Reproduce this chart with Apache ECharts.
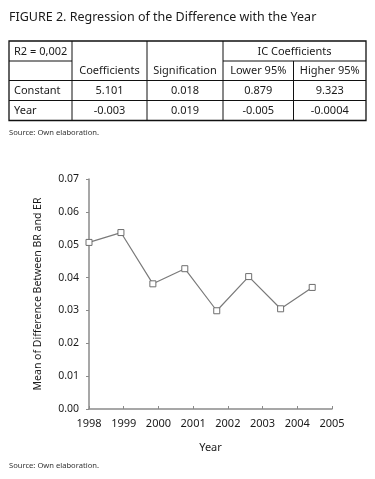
<!DOCTYPE html>
<html>
<head>
<meta charset="utf-8">
<script src="https://cdn.jsdelivr.net/npm/echarts@6/dist/echarts.min.js"></script>
<style>
html,body{margin:0;padding:0;background:#fff;}
#chart{width:375px;height:479px;}
</style>
</head>
<body>
<div id="chart"></div>
<script>
// ---- Data ----
const titleText = 'FIGURE 2. Regression of the Difference with the Year';
const sourceText = 'Source: Own elaboration.';
const tableTopLeft = 'R2 = 0,002';
const tableGroupHeader = 'IC Coefficients';
const columnHeaders = ['Coefficients', 'Signification', 'Lower 95%', 'Higher 95%'];
const rowLabels = ['Constant', 'Year'];
const coefficients = ['5.101', '-0.003'];
const signification = ['0.018', '0.019'];
const lower95 = ['0.879', '-0.005'];
const higher95 = ['9.323', '-0.0004'];

const pointYears = [1998.0, 1998.92, 1999.84, 2000.76, 2001.68, 2002.6, 2003.52, 2004.43];
const meanDifference = [0.0507, 0.0537, 0.0381, 0.0427, 0.0299, 0.0403, 0.0305, 0.0370];
const xTickLabels = ['1998', '1999', '2000', '2001', '2002', '2003', '2004', '2005'];
const yTickLabels = ['0.00', '0.01', '0.02', '0.03', '0.04', '0.05', '0.06', '0.07'];

// ---- Layout ----
const FONT = '"Noto Sans", sans-serif';
const colX = [9, 72, 147, 223, 293.5, 366];
const rowY = [41, 61, 80.5, 100.5, 120.5];
const txt = '#1a1a1a';

const graphics = [];
function text(x, y, s, opts) {
  graphics.push({
    type: 'text', x: x, y: y, silent: true,
    style: Object.assign({ text: s, fill: txt, font: '11px ' + FONT, textAlign: 'left', textVerticalAlign: 'middle' }, opts || {})
  });
}
function line(x1, y1, x2, y2, w) {
  graphics.push({ type: 'line', silent: true, shape: { x1: x1, y1: y1, x2: x2, y2: y2 }, style: { stroke: '#111', lineWidth: w || 1 } });
}
// title
text(9, 17, titleText, { font: '12.5px ' + FONT });
// table outer border
graphics.push({ type: 'rect', silent: true, shape: { x: colX[0], y: rowY[0], width: colX[5] - colX[0], height: rowY[4] - rowY[0] }, style: { fill: 'none', stroke: '#111', lineWidth: 1.3 } });
// horizontal lines
line(colX[0], rowY[1], colX[1], rowY[1]);
line(colX[3], rowY[1], colX[5], rowY[1]);
line(colX[0], rowY[2], colX[5], rowY[2]);
line(colX[0], rowY[3], colX[5], rowY[3]);
// vertical lines
line(colX[1], rowY[0], colX[1], rowY[4]);
line(colX[2], rowY[0], colX[2], rowY[4]);
line(colX[3], rowY[0], colX[3], rowY[4]);
line(colX[4], rowY[1], colX[4], rowY[4]);
// table texts
const rc = i => (rowY[i] + rowY[i + 1]) / 2 + 0.5;
const cc = j => (colX[j] + colX[j + 1]) / 2;
text(14, rc(0), tableTopLeft);
text((colX[3] + colX[5]) / 2, rc(0), tableGroupHeader, { textAlign: 'center' });
columnHeaders.forEach((h, j) => text(cc(j + 1), rc(1), h, { textAlign: 'center' }));
const cols = [coefficients, signification, lower95, higher95];
rowLabels.forEach((lab, i) => {
  text(14, rc(i + 2), lab);
  cols.forEach((c, j) => text(cc(j + 1), rc(i + 2), c[i], { textAlign: 'center' }));
});
// sources
text(9, 133, sourceText, { font: '7.6px ' + FONT, fill: '#333' });
text(9, 466, sourceText, { font: '7.6px ' + FONT, fill: '#333' });

const chart = echarts.init(document.getElementById('chart'), null, { renderer: 'canvas' });
chart.setOption({
  animation: false,
  backgroundColor: '#fff',
  textStyle: { fontFamily: FONT },
  grid: { left: 89, right: 43, top: 179, bottom: 70, containLabel: false },
  xAxis: {
    type: 'value', min: 1998, max: 2005, interval: 1,
    name: 'Year', nameLocation: 'middle', nameGap: 33,
    nameTextStyle: { color: txt, fontSize: 11, fontFamily: FONT },
    axisLine: { show: true, lineStyle: { color: '#8a8a8a', width: 1.5 } },
    axisTick: { show: true, inside: true, length: 3, lineStyle: { color: '#8a8a8a', width: 1 } },
    axisLabel: { color: txt, fontSize: 11, fontFamily: FONT, margin: 9, formatter: v => xTickLabels[Math.round(v - 1998)] },
    splitLine: { show: false }
  },
  yAxis: {
    type: 'value', min: 0, max: 0.07, interval: 0.01,
    name: 'Mean of Difference Between BR and ER', nameLocation: 'middle', nameGap: 45,
    nameTextStyle: { color: txt, fontSize: 10.5, fontFamily: FONT },
    axisLine: { show: true, lineStyle: { color: '#8a8a8a', width: 1.5 } },
    axisTick: { show: true, length: 3, lineStyle: { color: '#8a8a8a', width: 1 } },
    axisLabel: { color: txt, fontSize: 10.5, fontFamily: FONT, margin: 10, formatter: v => yTickLabels[Math.round(v * 100)] },
    splitLine: { show: false }
  },
  series: [{
    type: 'line',
    data: pointYears.map((y, i) => [y, meanDifference[i]]),
    symbol: 'rect', symbolSize: 6,
    itemStyle: { color: '#fff', borderColor: '#6e6e6e', borderWidth: 1 },
    lineStyle: { color: '#7a7a7a', width: 1.2 },
    z: 3
  }],
  graphic: graphics
});
</script>
</body>
</html>
